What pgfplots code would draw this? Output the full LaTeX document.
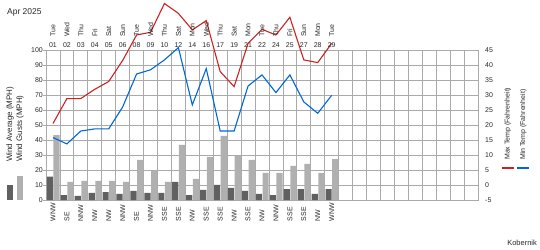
\documentclass[border=0pt]{standalone}
\usepackage{fontspec}
\setmainfont{Liberation Sans}
\usepackage{pgfplots}
\pgfplotsset{compat=1.18}
\definecolor{gridgray}{RGB}{170,170,170}
\definecolor{darkbar}{RGB}{96,96,96}
\definecolor{lightbar}{RGB}{176,176,176}
\definecolor{maxred}{RGB}{204,34,34}
\definecolor{minblue}{RGB}{0,102,221}
\definecolor{txt}{RGB}{40,40,40}
\newcommand{\tf}{\fontsize{7}{8}\selectfont}
\begin{document}
\begin{tikzpicture}
\path[use as bounding box] (-46bp,-50bp) rectangle (494bp,200bp);
\begin{axis}[
  at={(0,0)}, anchor=south west, width=432bp, height=150bp, scale only axis,
  xmin=0, xmax=31, ymin=0, ymax=100,
  xtick={1,...,30}, xticklabels={}, xmajorgrids,
  ytick={0,10,...,100}, ymajorgrids,
  ytick pos=left, tick align=outside, major tick length=3bp,
  xtick style={draw=none},
  ytick style={draw=gridgray, line width=0.8bp},
  axis line style={draw=gridgray, line width=0.8bp},
  grid style={draw=gridgray, line width=0.8bp},
  yticklabel style={font=\tf, text=txt, inner sep=0pt},
  /pgf/number format/assume math mode=true,
  clip=false,
]
\addplot[ybar, bar width=6.2bp, bar shift=0pt, fill=darkbar, draw=none] coordinates {
(0.28,15.5) (1.28,3.3) (2.28,2.7) (3.28,4.7) (4.28,5.3) (5.28,4.0) (6.28,6.0)
(7.28,4.7) (8.28,4.7) (9.28,12.0) (10.28,3.3) (11.28,6.7) (12.28,10.0) (13.28,8.0)
(14.28,6.0) (15.28,4.0) (16.28,3.3) (17.28,7.3) (18.28,7.3) (19.28,4.0) (20.28,7.3)};
\addplot[ybar, bar width=6.2bp, bar shift=0pt, fill=lightbar, draw=none] coordinates {
(0.76,43.3) (1.76,12.0) (2.76,12.7) (3.76,12.7) (4.76,12.7) (5.76,12.0) (6.76,26.7)
(7.76,19.8) (8.76,12.0) (9.76,36.7) (10.76,14.0) (11.76,28.7) (12.76,42.7) (13.76,29.3)
(14.76,26.7) (15.76,18.0) (16.76,18.0) (17.76,22.7) (18.76,24.0) (19.76,18.0) (20.76,27.3)};
\end{axis}
\begin{axis}[
  at={(0,0)}, anchor=south west, width=432bp, height=150bp, scale only axis,
  xmin=0, xmax=31, ymin=-5, ymax=45,
  hide x axis, axis line style={draw=none},
  ytick={-5,0,...,45}, ytick pos=right, yticklabel pos=right,
  ytick style={draw=none},
  yticklabel style={font=\tf, text=txt, inner sep=0pt, xshift=7bp},
  /pgf/number format/assume math mode=true,
  clip=false,
]
\addplot[maxred, line width=1.1bp, mark=none] coordinates {
(0.5,20.5) (1.5,28.8) (2.5,28.8) (3.5,31.9) (4.5,34.5) (5.5,41.5) (6.5,50.0)
(7.5,50.9) (8.5,60.5) (9.5,57.2) (10.5,51.7) (11.5,54.8) (12.5,37.8) (13.5,32.8)
(14.5,47.2) (15.5,51.9) (16.5,50.0) (17.5,55.9) (18.5,41.7) (19.5,40.8) (20.5,47.2)};
\addplot[minblue, line width=1.1bp, mark=none] coordinates {
(0.5,15.8) (1.5,13.7) (2.5,18.0) (3.5,18.7) (4.5,18.7) (5.5,26.0) (6.5,37.0)
(7.5,38.4) (8.5,41.7) (9.5,45.8) (10.5,26.7) (11.5,38.8) (12.5,18.0) (13.5,18.0)
(14.5,33.0) (15.5,36.7) (16.5,30.8) (17.5,36.7) (18.5,27.7) (19.5,23.9) (20.5,29.9)};
\end{axis}
\foreach \dn/\dt/\wdir [count=\i from 0] in {Tue/01/WNW, Wed/02/SE, Thu/03/NNW, Fri/04/NW, Sat/05/NW, Sun/06/NNW, Tue/08/SE, Wed/09/NNW, Thu/10/SSE, Sat/12/SSE, Mon/14/NW, Wed/16/SSE, Thu/17/SSE, Sat/19/NW, Mon/21/SSE, Tue/22/NW, Thu/24/NNW, Fri/25/SSE, Sun/27/SSE, Mon/28/NW, Tue/29/WNW}{
  \pgfmathsetmacro\xx{(\i+0.5)*432/31}
  \node[rotate=90, anchor=west, inner sep=0pt, font=\tf, text=txt] at (\xx bp,163bp) {\dn};
  \node[inner sep=0pt, font=\tf, text=txt] at (\xx bp,155bp) {\dt};
  \node[rotate=90, anchor=west, inner sep=0pt, font=\tf, text=txt] at (\xx bp,-21.5bp) {\wdir};
}
% left legend
\fill[darkbar] (-39bp,0bp) rectangle (-33bp,15bp);
\fill[lightbar] (-29bp,0bp) rectangle (-23bp,24bp);
\node[rotate=90, anchor=west, inner sep=0pt, font=\fontsize{8}{9}\selectfont, text=txt] at (-36bp,38bp) {Wind Average (MPH)};
\node[rotate=90, anchor=west, inner sep=0pt, font=\fontsize{8}{9}\selectfont, text=txt] at (-26bp,38bp) {Wind Gusts (MPH)};
% right legend
\draw[maxred, line width=2bp] (456bp,31.7bp) -- (468bp,31.7bp);
\draw[minblue, line width=2bp] (471bp,31.7bp) -- (483bp,31.7bp);
\node[rotate=90, anchor=west, inner sep=0pt, font=\fontsize{7}{8}\selectfont, text=txt] at (461.7bp,40bp) {Max Temp (Fahrenheit)};
\node[rotate=90, anchor=west, inner sep=0pt, font=\fontsize{7}{8}\selectfont, text=txt] at (477.3bp,40bp) {Min Temp (Fahrenheit)};
% title and credit
\node[anchor=west, inner sep=0pt, font=\fontsize{8.5}{10}\selectfont, text=txt] at (-39bp,188bp) {Apr 2025};
\node[anchor=east, inner sep=0pt, font=\fontsize{7.5}{9}\selectfont, text=txt] at (491bp,-43bp) {Kobernik};
\end{tikzpicture}
\end{document}
